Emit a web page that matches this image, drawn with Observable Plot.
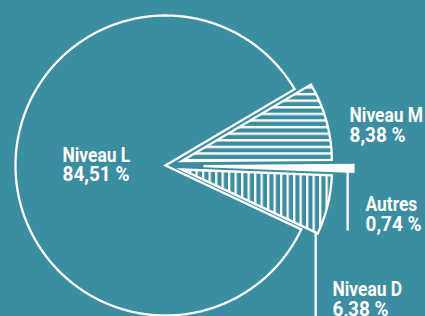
<!DOCTYPE html>
<html>
<head>
<meta charset="utf-8">
<script src="https://cdn.jsdelivr.net/npm/d3@7"></script>
<script src="https://cdn.jsdelivr.net/npm/@observablehq/plot@0.6"></script>
<style>
  html, body { margin: 0; padding: 0; background: #3b8da1; }
  #chart { width: 425px; height: 316px; overflow: hidden; }
</style>
</head>
<body>
<div id="chart"></div>
<script>
// ---- data ----
const categories = ["Niveau M", "Autres", "Niveau D", "Niveau L"];
const shares = [8.38, 0.74, 6.38, 84.51];
const shareLabels = ["8,38 %", "0,74 %", "6,38 %", "84,51 %"];

// ---- layout (not data) ----
const BG = "#3b8da1";
const FONT = "Roboto, 'Noto Sans', sans-serif";
const startDeg = 59.4;                       // pie start angle (clockwise from top)
const explode = [0.113, 0.253, 0.113, 0];    // radial offset of each slice (radius = 1)
const fills = ["url(#hatchH)", "white", "url(#hatchV)", "none"];
// label anchor: x, baseline of first line, baseline of second line (unit coordinates)
const labelPos = [[1.2267, 0.2887, 0.158], [1.3333, -0.3, -0.4367], [1.1133, -0.8667, -1.0033], [-0.6867, 0.022, -0.106]];

const pie = d3.pie().sort(null).value(d => d)
  .startAngle(startDeg * Math.PI / 180)
  .endAngle(startDeg * Math.PI / 180 + 2 * Math.PI);
const arcs = pie(shares);

// polygon outline of each slice, in unit coordinates (y up)
const pts = [];
const corners = [];
arcs.forEach((a, i) => {
  const mid = (a.startAngle + a.endAngle) / 2;
  const ox = explode[i] * Math.sin(mid), oy = explode[i] * Math.cos(mid);
  pts.push({slice: i, x: ox, y: oy});
  const n = Math.max(4, Math.ceil((a.endAngle - a.startAngle) / (0.4 * Math.PI / 180)));
  for (let k = 0; k <= n; k++) {
    const t = a.startAngle + (a.endAngle - a.startAngle) * k / n;
    pts.push({slice: i, x: ox + Math.sin(t), y: oy + Math.cos(t)});
  }
  corners.push({ox, oy, a});
});

// leader lines: from slice end corner downwards to label
const leaders = [
  {i: 1, r: 0.962, yEnd: -0.4333},
  {i: 2, r: 0.985, yEnd: -1.05}
].map(l => {
  const c = corners[l.i];
  const x = c.ox + l.r * Math.sin(c.a.endAngle);
  const y = c.oy + l.r * Math.cos(c.a.endAngle);
  return {x1: x, y1: y, x2: x, y2: l.yEnd};
});

const labels = categories.flatMap((c, i) => [
  {text: c, x: labelPos[i][0], y: labelPos[i][1], kind: "name"},
  {text: shareLabels[i], x: labelPos[i][0], y: labelPos[i][2], kind: "pct"}
]);

const sliceMark = i => Plot.line(pts.filter(p => p.slice === i), {
  x: "x", y: "y", curve: "linear-closed",
  stroke: "white", strokeWidth: 2.3, strokeLinejoin: "miter", strokeMiterlimit: 10,
  fill: fills[i]
});

const textMark = kind => Plot.text(labels.filter(d => d.kind === kind), {
  x: "x", y: "y", text: "text", textAnchor: "start", lineAnchor: "bottom",
  fill: "white", fontSize: 20, fontWeight: "bold", fontFamily: FONT,
  className: "lbl-" + kind
});

const svg = Plot.plot({
  width: 425, height: 316, margin: 0,
  x: {domain: [-1.1, 425 / 150 - 1.1], axis: null},
  y: {domain: [-(316 - 165) / 150, 165 / 150], axis: null},
  style: {background: BG, overflow: "hidden"},
  marks: [
    sliceMark(3), sliceMark(0), sliceMark(2), sliceMark(1),
    Plot.link(leaders, {x1: "x1", y1: "y1", x2: "x2", y2: "y2", stroke: "white", strokeWidth: 2.3}),
    textMark("name"), textMark("pct")
  ]
});

// condensed look for the labels
const condense = (sel, s) => d3.select(svg).selectAll(sel + " text").each(function() {
  const t = this.getAttribute("transform") || "";
  this.setAttribute("transform", t + ` scale(${s},1)`);
});
condense(".lbl-name", 0.87);
condense(".lbl-pct", 0.95);

const defs = d3.select(svg).insert("defs", ":first-child");
const pH = defs.append("pattern").attr("id", "hatchH").attr("patternUnits", "userSpaceOnUse")
  .attr("width", 10).attr("height", 6.6);
pH.append("rect").attr("x", 0).attr("y", 0).attr("width", 10).attr("height", 2.4).attr("fill", "white");
const pV = defs.append("pattern").attr("id", "hatchV").attr("patternUnits", "userSpaceOnUse")
  .attr("width", 6.5).attr("height", 10);
pV.append("rect").attr("x", 0).attr("y", 0).attr("width", 2.3).attr("height", 10).attr("fill", "white");

document.getElementById("chart").appendChild(svg);
</script>
</body>
</html>
